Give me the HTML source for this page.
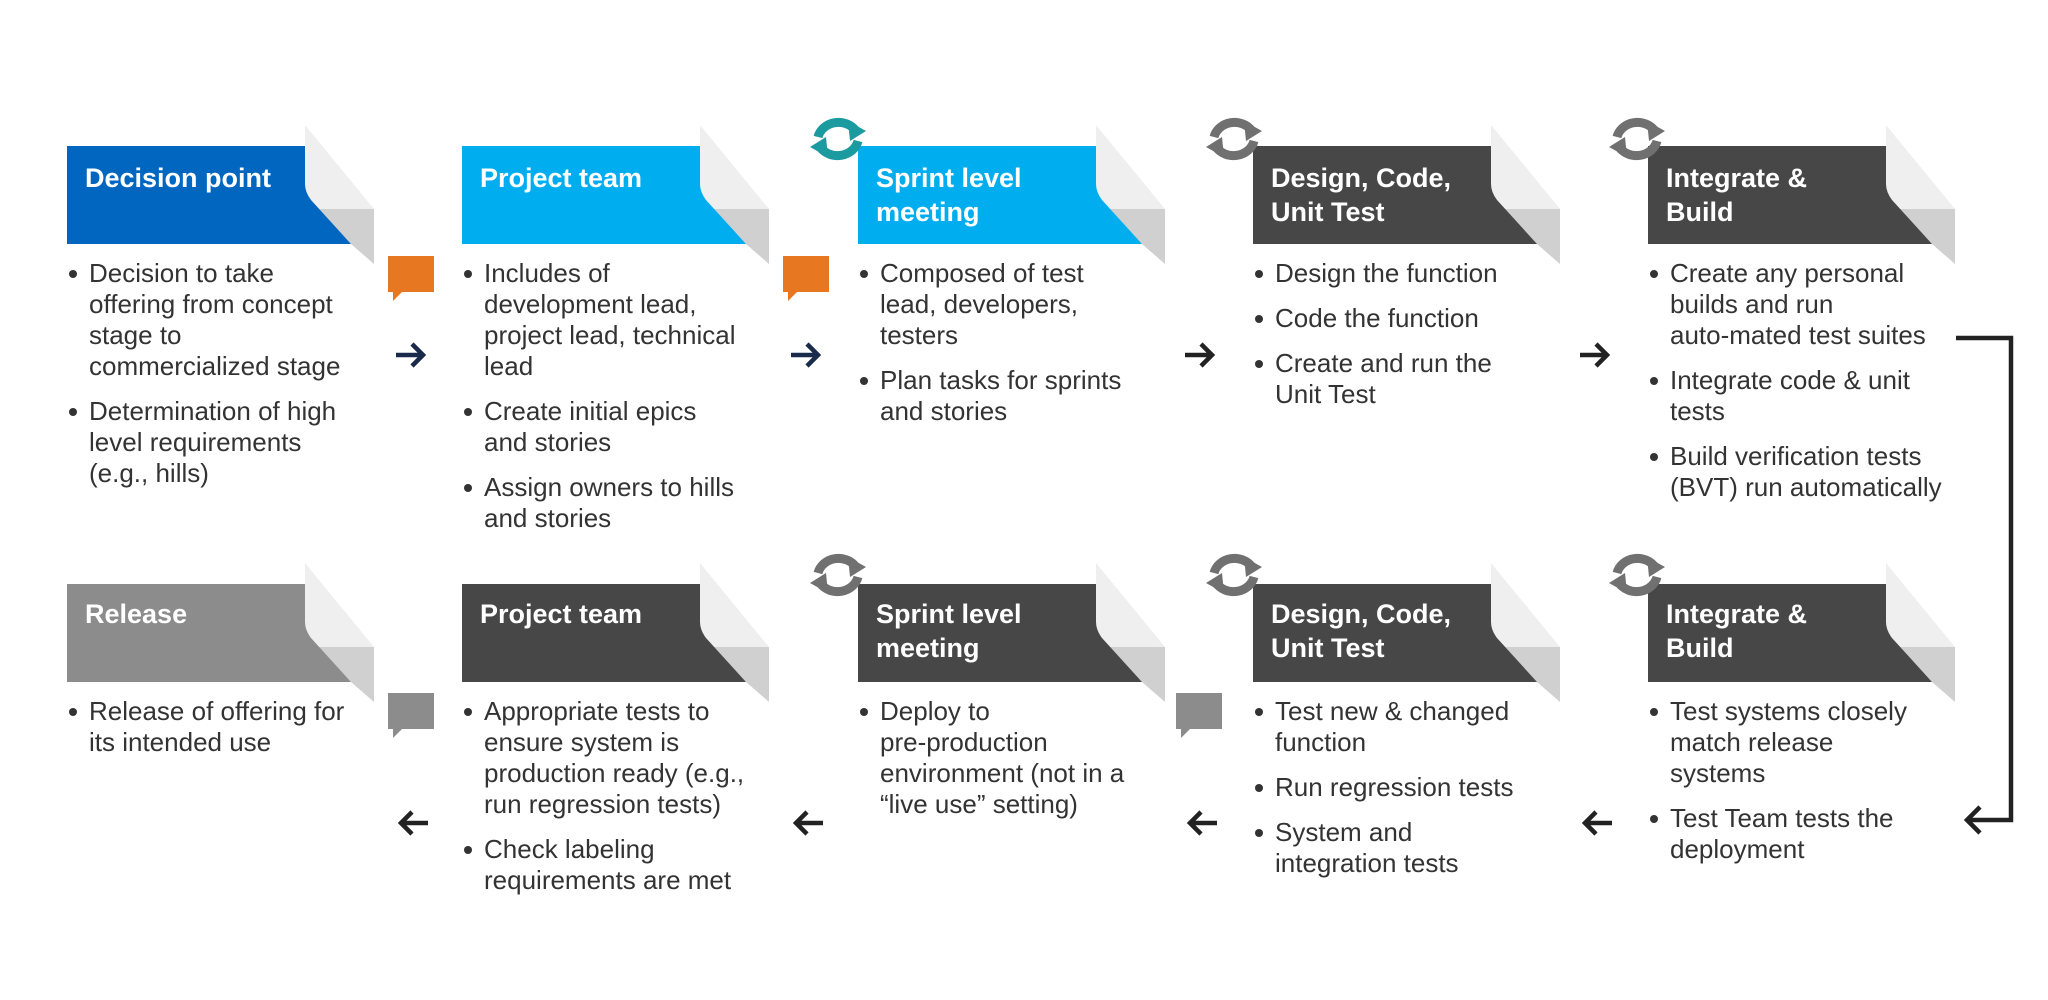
<!DOCTYPE html>
<html><head><meta charset="utf-8"><style>
body{margin:0;width:2048px;height:1000px;background:#fff;position:relative;overflow:hidden;font-family:"Liberation Sans",Arial,sans-serif}
.t{position:absolute;color:#fff;font-weight:bold;font-size:27px;line-height:34px;white-space:nowrap}
.b{position:absolute;color:#333;font-size:26px;line-height:31px;white-space:nowrap}
.b p{margin:0 0 14px 0;padding-left:22px;position:relative}
.b p:before{content:"";position:absolute;left:2px;top:12px;width:8px;height:8px;border-radius:50%;background:#333}
svg{position:absolute;left:0;top:0}
</style></head><body>
<svg width="2048" height="1000" viewBox="0 0 2048 1000">
<defs>
<g id="fold">
<polygon points="238,-21 307,63 250,63 238,46" fill="#efefef"/>
<polygon points="250,63 307,63 307,118 284,98" fill="#d0d0d0"/>
</g>
<g id="ref" fill="none" stroke-width="9">
<path d="M-20,-2 A21,19 0 0 1 18,-8"/>
<path d="M20,2 A21,19 0 0 1 -18,8"/>
</g>
</defs>
<g transform="translate(67,146)"><use href="#fold"/><path d="M0,0H238V38Q238,46 244,54L284,98H0Z" fill="#0066c0"/></g>
<g transform="translate(462,146)"><use href="#fold"/><path d="M0,0H238V38Q238,46 244,54L284,98H0Z" fill="#00aeef"/></g>
<g transform="translate(858,146)"><use href="#fold"/><path d="M0,0H238V38Q238,46 244,54L284,98H0Z" fill="#00aeef"/></g>
<g transform="translate(1253,146)"><use href="#fold"/><path d="M0,0H238V38Q238,46 244,54L284,98H0Z" fill="#474747"/></g>
<g transform="translate(1648,146)"><use href="#fold"/><path d="M0,0H238V38Q238,46 244,54L284,98H0Z" fill="#474747"/></g>
<g transform="translate(67,584)"><use href="#fold"/><path d="M0,0H238V38Q238,46 244,54L284,98H0Z" fill="#8c8c8c"/></g>
<g transform="translate(462,584)"><use href="#fold"/><path d="M0,0H238V38Q238,46 244,54L284,98H0Z" fill="#474747"/></g>
<g transform="translate(858,584)"><use href="#fold"/><path d="M0,0H238V38Q238,46 244,54L284,98H0Z" fill="#474747"/></g>
<g transform="translate(1253,584)"><use href="#fold"/><path d="M0,0H238V38Q238,46 244,54L284,98H0Z" fill="#474747"/></g>
<g transform="translate(1648,584)"><use href="#fold"/><path d="M0,0H238V38Q238,46 244,54L284,98H0Z" fill="#474747"/></g>
<g transform="translate(838,139)" stroke="#1b9aa0" fill="#1b9aa0"><use href="#ref"/><polygon points="10,-18 28,-8 12,2" stroke="none"/><polygon points="-10,18 -28,8 -12,-2" stroke="none"/></g>
<g stroke="#707070" fill="#707070">
<g transform="translate(1234,139)"><use href="#ref"/><polygon points="10,-18 28,-8 12,2" stroke="none"/><polygon points="-10,18 -28,8 -12,-2" stroke="none"/></g>
<g transform="translate(1637,139)"><use href="#ref"/><polygon points="10,-18 28,-8 12,2" stroke="none"/><polygon points="-10,18 -28,8 -12,-2" stroke="none"/></g>
<g transform="translate(838,575)"><use href="#ref"/><polygon points="10,-18 28,-8 12,2" stroke="none"/><polygon points="-10,18 -28,8 -12,-2" stroke="none"/></g>
<g transform="translate(1234,575)"><use href="#ref"/><polygon points="10,-18 28,-8 12,2" stroke="none"/><polygon points="-10,18 -28,8 -12,-2" stroke="none"/></g>
<g transform="translate(1637,575)"><use href="#ref"/><polygon points="10,-18 28,-8 12,2" stroke="none"/><polygon points="-10,18 -28,8 -12,-2" stroke="none"/></g>
</g>
<path d="M388,256h46v36h-32l-9,9v-9h-5z" fill="#e87722"/>
<path d="M783,256h46v36h-32l-9,9v-9h-5z" fill="#e87722"/>
<path d="M388,693h46v36h-32l-9,9v-9h-5z" fill="#8c8c8c"/>
<path d="M1176,693h46v36h-32l-9,9v-9h-5z" fill="#8c8c8c"/>
<g fill="none" stroke-width="4.5">
<path d="M396,355h26M412,344l11,11-11,11" stroke="#1a2a4a"/>
<path d="M791,355h26M807,344l11,11-11,11" stroke="#1a2a4a"/>
<path d="M1185,355h26M1201,344l11,11-11,11" stroke="#222"/>
<path d="M1580,355h26M1596,344l11,11-11,11" stroke="#222"/>
<path d="M428,823h-26M412,812l-11,11 11,11" stroke="#222"/>
<path d="M823,823h-26M807,812l-11,11 11,11" stroke="#222"/>
<path d="M1217,823h-26M1201,812l-11,11 11,11" stroke="#222"/>
<path d="M1612,823h-26M1596,812l-11,11 11,11" stroke="#222"/>
<path d="M1956,338H2011V820H1966M1980,807l-13,13 13,13" stroke="#222" stroke-width="4.5"/>
</g>
</svg>

<div class="t" style="left:85px;top:161px">Decision point</div>
<div class="t" style="left:480px;top:161px">Project team</div>
<div class="t" style="left:876px;top:161px">Sprint level<br>meeting</div>
<div class="t" style="left:1271px;top:161px">Design, Code,<br>Unit Test</div>
<div class="t" style="left:1666px;top:161px">Integrate &amp;<br>Build</div>

<div class="t" style="left:85px;top:597px">Release</div>
<div class="t" style="left:480px;top:597px">Project team</div>
<div class="t" style="left:876px;top:597px">Sprint level<br>meeting</div>
<div class="t" style="left:1271px;top:597px">Design, Code,<br>Unit Test</div>
<div class="t" style="left:1666px;top:597px">Integrate &amp;<br>Build</div>

<div class="b" style="left:67px;top:258px"><p>Decision to take<br>offering from concept<br>stage to<br>commercialized stage</p><p>Determination of high<br>level requirements<br>(e.g., hills)</p></div>
<div class="b" style="left:462px;top:258px"><p>Includes of<br>development lead,<br>project lead, technical<br>lead</p><p>Create initial epics<br>and stories</p><p>Assign owners to hills<br>and stories</p></div>
<div class="b" style="left:858px;top:258px"><p>Composed of test<br>lead, developers,<br>testers</p><p>Plan tasks for sprints<br>and stories</p></div>
<div class="b" style="left:1253px;top:258px"><p>Design the function</p><p>Code the function</p><p>Create and run the<br>Unit Test</p></div>
<div class="b" style="left:1648px;top:258px"><p>Create any personal<br>builds and run<br>auto-mated test suites</p><p>Integrate code &amp; unit<br>tests</p><p>Build verification tests<br>(BVT) run automatically</p></div>

<div class="b" style="left:67px;top:696px"><p>Release of offering for<br>its intended use</p></div>
<div class="b" style="left:462px;top:696px"><p>Appropriate tests to<br>ensure system is<br>production ready (e.g.,<br>run regression tests)</p><p>Check labeling<br>requirements are met</p></div>
<div class="b" style="left:858px;top:696px"><p>Deploy to<br>pre-production<br>environment (not in a<br>“live use” setting)</p></div>
<div class="b" style="left:1253px;top:696px"><p>Test new &amp; changed<br>function</p><p>Run regression tests</p><p>System and<br>integration tests</p></div>
<div class="b" style="left:1648px;top:696px"><p>Test systems closely<br>match release<br>systems</p><p>Test Team tests the<br>deployment</p></div>
</body></html>
